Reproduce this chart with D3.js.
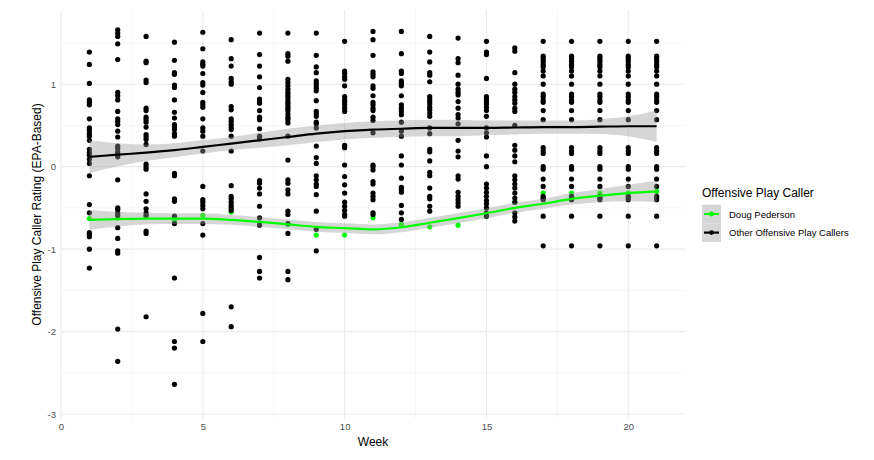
<!DOCTYPE html>
<html><head><meta charset="utf-8">
<script src="https://cdn.jsdelivr.net/npm/d3@7"></script>
<style>body{margin:0;background:#fff;} text{font-family:"Liberation Sans",Arial,sans-serif;}</style>
</head><body><svg id="c" width="874" height="460"></svg>
<script>
const weeks = d3.range(1, 22);
const xTicks = [0, 5, 10, 15, 20];
const yTicks = [-3, -2, -1, 0, 1];
const seriesNames = ["Doug Pederson", "Other Offensive Play Callers"];
const seriesColors = ["#00ff00", "#000000"];

// Doug Pederson rating per week
const dougPederson = [-0.63,-0.62,-0.60,-0.66,-0.59,-0.55,-0.68,-0.70,-0.83,-0.83,-0.62,-0.70,-0.73,-0.71,-0.60,-0.43,-0.32,-0.32,-0.32,-0.32,-0.30];

// Other play callers, one array per week
const w1 = [1.39,1.24,1.01,0.81,0.78,0.75,0.58,0.47,0.44,0.40,0.37,0.32,0.21,0.17,0.14,0.09,0.04,-0.11,-0.46,-0.56,-0.80,-0.82,-0.85,-1.00,-1.23];
const w2 = [1.66,1.62,1.58,1.49,1.30,0.90,0.86,0.81,0.67,0.58,0.55,0.51,0.43,0.36,0.25,0.22,0.18,0.15,0.12,-0.16,-0.50,-0.52,-0.56,-0.59,-0.74,-0.87,-1.02,-1.05,-1.97,-2.36];
const w3 = [1.58,1.28,1.26,1.05,1.02,0.71,0.68,0.60,0.57,0.54,0.48,0.39,0.36,0.33,0.27,0.03,0.00,-0.03,-0.33,-0.42,-0.51,-0.56,-0.59,-0.78,-0.81,-1.82];
const w4 = [1.51,1.29,1.14,1.12,0.99,0.96,0.81,0.66,0.59,0.51,0.48,0.45,0.40,0.37,-0.08,-0.11,-0.39,-0.42,-0.60,-0.69,-1.35,-2.12,-2.20,-2.64];
const w5 = [1.63,1.43,1.27,1.24,1.22,1.13,1.02,0.99,0.90,0.78,0.75,0.72,0.58,0.47,0.43,0.37,0.19,-0.24,-0.40,-0.43,-0.47,-0.51,-0.69,-0.83,-1.78,-2.12];
const w6 = [1.54,1.31,1.22,1.07,1.03,1.00,0.73,0.69,0.58,0.55,0.51,0.48,0.45,0.37,0.19,-0.23,-0.36,-0.39,-0.43,-0.47,-0.50,-0.53,-1.70,-1.94];
const w7 = [1.62,1.36,1.22,1.09,0.96,0.82,0.79,0.77,0.68,0.60,0.57,0.46,0.37,0.34,-0.17,-0.20,-0.26,-0.33,-0.48,-0.62,-0.71,-1.10,-1.27,-1.35];
const w8 = [1.62,1.37,1.34,1.28,1.06,1.02,0.98,0.94,0.90,0.87,0.84,0.80,0.77,0.74,0.71,0.68,0.64,0.60,0.57,0.53,0.37,0.08,-0.16,-0.20,-0.28,-0.33,-0.54,-0.58,-0.69,-0.81,-1.27,-1.37];
const w9 = [1.62,1.35,1.21,1.14,1.04,1.01,0.98,0.95,0.92,0.80,0.67,0.64,0.61,0.54,0.52,0.47,0.25,0.11,0.04,-0.11,-0.16,-0.21,-0.24,-0.34,-0.54,-0.76,-1.02];
const w10 = [1.52,1.16,1.13,1.09,1.06,0.98,0.85,0.81,0.78,0.75,0.71,0.67,0.26,0.23,0.02,-0.12,-0.22,-0.32,-0.43,-0.48,-0.53,-0.58,-0.60];
const w11 = [1.64,1.54,1.35,1.15,1.12,1.09,0.98,0.95,0.86,0.78,0.75,0.71,0.68,0.60,0.56,0.41,0.02,0.00,-0.04,-0.18,-0.21,-0.32,-0.36,-0.40,-0.56,-0.58];
const w12 = [1.64,1.37,1.16,1.13,1.04,1.01,0.98,0.86,0.75,0.71,0.67,0.63,0.54,0.43,0.37,0.13,0.02,-0.14,-0.25,-0.28,-0.31,-0.47,-0.56,-0.64];
const w13 = [1.58,1.39,1.27,1.14,1.11,1.03,0.85,0.82,0.79,0.76,0.72,0.69,0.65,0.61,0.47,0.40,0.21,0.18,0.07,-0.07,-0.11,-0.26,-0.36,-0.39,-0.48,-0.54];
const w14 = [1.56,1.31,1.26,1.11,1.00,0.94,0.90,0.87,0.79,0.71,0.63,0.59,0.52,0.32,0.19,0.12,-0.11,-0.15,-0.31,-0.36,-0.40,-0.44,-0.48];
const w15 = [1.52,1.39,1.36,1.07,0.85,0.82,0.79,0.76,0.72,0.68,0.61,0.47,0.41,0.36,0.13,0.00,-0.21,-0.26,-0.31,-0.36,-0.41,-0.45,-0.50,-0.56,-0.60];
const w16 = [1.44,1.40,1.14,1.00,0.94,0.90,0.85,0.81,0.77,0.71,0.67,0.50,0.26,0.20,0.13,0.06,-0.11,-0.16,-0.21,-0.26,-0.32,-0.38,-0.43,-0.56,-0.61,-0.66];
const w17 = [1.52,1.34,1.31,1.28,1.24,1.21,1.16,1.10,1.00,0.88,0.85,0.81,0.78,0.68,0.57,0.23,0.19,0.16,0.00,-0.03,-0.15,-0.24,-0.36,-0.38,-0.40,-0.60,-0.96];
const w18 = [1.52,1.34,1.31,1.28,1.24,1.21,1.16,1.10,1.00,0.88,0.85,0.81,0.78,0.68,0.57,0.23,0.19,0.16,0.00,-0.03,-0.15,-0.24,-0.36,-0.38,-0.40,-0.60,-0.96];
const w19 = [1.52,1.34,1.31,1.28,1.24,1.21,1.16,1.10,1.00,0.88,0.85,0.81,0.78,0.68,0.57,0.23,0.19,0.16,0.00,-0.03,-0.15,-0.24,-0.36,-0.38,-0.40,-0.60,-0.96];
const w20 = [1.52,1.34,1.31,1.28,1.24,1.21,1.16,1.10,1.00,0.88,0.85,0.81,0.78,0.68,0.57,0.23,0.19,0.16,0.00,-0.03,-0.15,-0.24,-0.36,-0.38,-0.40,-0.60,-0.96];
const w21 = [1.52,1.34,1.31,1.28,1.24,1.21,1.16,1.10,1.00,0.88,0.85,0.81,0.78,0.68,0.57,0.23,0.19,0.16,0.00,-0.03,-0.15,-0.24,-0.36,-0.38,-0.40,-0.60,-0.96];
const otherByWeek = [w1,w2,w3,w4,w5,w6,w7,w8,w9,w10,w11,w12,w13,w14,w15,w16,w17,w18,w19,w20,w21];

// Smoothed trend and ribbon half-widths
const otherFit = [0.12,0.145,0.17,0.20,0.24,0.28,0.32,0.36,0.40,0.43,0.45,0.46,0.47,0.47,0.47,0.475,0.48,0.48,0.485,0.49,0.49];
const otherSE  = [0.20,0.14,0.10,0.085,0.08,0.08,0.09,0.10,0.10,0.10,0.10,0.10,0.10,0.10,0.09,0.085,0.08,0.08,0.09,0.12,0.19];
const dougFit  = [-0.645,-0.636,-0.63,-0.63,-0.63,-0.645,-0.67,-0.70,-0.73,-0.745,-0.76,-0.735,-0.68,-0.625,-0.565,-0.50,-0.45,-0.39,-0.35,-0.32,-0.30];
const dougSE   = [0.12,0.09,0.07,0.065,0.065,0.06,0.06,0.06,0.06,0.06,0.06,0.06,0.06,0.06,0.06,0.06,0.06,0.07,0.08,0.10,0.13];

const svg = d3.select("#c");
const L = 61, R = 685, T = 10, B = 419;
const x = d3.scaleLinear().domain([0, 22]).range([L, R]);
const y = d3.scaleLinear().domain([-3.06, 1.9]).range([B, T]);

const grid = svg.append("g");
// minor grid
[2.5,7.5,12.5,17.5].forEach(v => grid.append("line").attr("x1",x(v)).attr("x2",x(v)).attr("y1",T).attr("y2",B).attr("stroke","#f2f2f2").attr("stroke-width",0.6));
[-2.5,-1.5,-0.5,0.5,1.5].forEach(v => grid.append("line").attr("x1",L).attr("x2",R).attr("y1",y(v)).attr("y2",y(v)).attr("stroke","#f2f2f2").attr("stroke-width",0.6));
xTicks.forEach(v => grid.append("line").attr("x1",x(v)).attr("x2",x(v)).attr("y1",T).attr("y2",B).attr("stroke","#ebebeb").attr("stroke-width",1.1));
yTicks.forEach(v => grid.append("line").attr("x1",L).attr("x2",R).attr("y1",y(v)).attr("y2",y(v)).attr("stroke","#ebebeb").attr("stroke-width",1.1));

// axes via d3 axes
const fmt = d => String(d);
const xAxis = svg.append("g").attr("transform",`translate(0,${B})`).call(d3.axisBottom(x).tickValues(xTicks).tickFormat(fmt).tickSize(0).tickPadding(4));
const yAxis = svg.append("g").attr("transform",`translate(${L},0)`).call(d3.axisLeft(y).tickValues(yTicks).tickFormat(fmt).tickSize(0).tickPadding(5));
[xAxis,yAxis].forEach(a => { a.select(".domain").remove(); a.selectAll("text").attr("fill","#4d4d4d").style("font-size","9.5px").style("font-family","Liberation Sans, Arial, sans-serif"); });

// points: Doug Pederson first, others over
svg.append("g").selectAll("circle").data(weeks.map((w,i)=>({w, v:dougPederson[i]}))).join("circle")
  .attr("cx",d=>x(d.w)).attr("cy",d=>y(d.v)).attr("r",2.6).attr("fill",seriesColors[0]);
const otherPts = [];
otherByWeek.forEach((arr,i)=>arr.forEach(v=>otherPts.push({w:weeks[i], v})));
svg.append("g").selectAll("circle").data(otherPts).join("circle")
  .attr("cx",d=>x(d.w)).attr("cy",d=>y(d.v)).attr("r",2.6).attr("fill",seriesColors[1]);

// smooths
const area = (fit,se) => d3.area().curve(d3.curveMonotoneX).x((d,i)=>x(weeks[i])).y0((d,i)=>y(fit[i]-se[i])).y1((d,i)=>y(fit[i]+se[i]))(fit);
const line = fit => d3.line().curve(d3.curveMonotoneX).x((d,i)=>x(weeks[i])).y(d=>y(d))(fit);
svg.append("path").attr("d",area(dougFit,dougSE)).attr("fill","#999999").attr("fill-opacity",0.4);
svg.append("path").attr("d",area(otherFit,otherSE)).attr("fill","#999999").attr("fill-opacity",0.4);
svg.append("path").attr("d",line(dougFit)).attr("fill","none").attr("stroke",seriesColors[0]).attr("stroke-width",2.2);
svg.append("path").attr("d",line(otherFit)).attr("fill","none").attr("stroke",seriesColors[1]).attr("stroke-width",2.2);

// axis titles
svg.append("text").attr("x",(L+R)/2).attr("y",446).attr("text-anchor","middle").style("font-size","12px").attr("fill","#000").text("Week");
svg.append("text").attr("transform",`translate(41,${(T+B)/2}) rotate(-90)`).attr("text-anchor","middle").style("font-size","12px").attr("fill","#000").text("Offensive Play Caller Rating (EPA-Based)");

// legend
const lg = svg.append("g");
lg.append("text").attr("x",702).attr("y",197).style("font-size","12px").attr("fill","#000").text("Offensive Play Caller");
seriesNames.forEach((n,i)=>{
  const cy = 214 + i*18.6;
  lg.append("rect").attr("x",702).attr("y",cy-9.3).attr("width",19).attr("height",18.6).attr("fill","#d6d6d6");
  lg.append("line").attr("x1",704).attr("x2",719).attr("y1",cy).attr("y2",cy).attr("stroke",seriesColors[i]).attr("stroke-width",2.2);
  lg.append("circle").attr("cx",711.5).attr("cy",cy).attr("r",2.4).attr("fill",seriesColors[i]);
  lg.append("text").attr("x",729).attr("y",cy+3.5).style("font-size","9.5px").attr("fill","#000").text(n);
});
</script></body></html>
